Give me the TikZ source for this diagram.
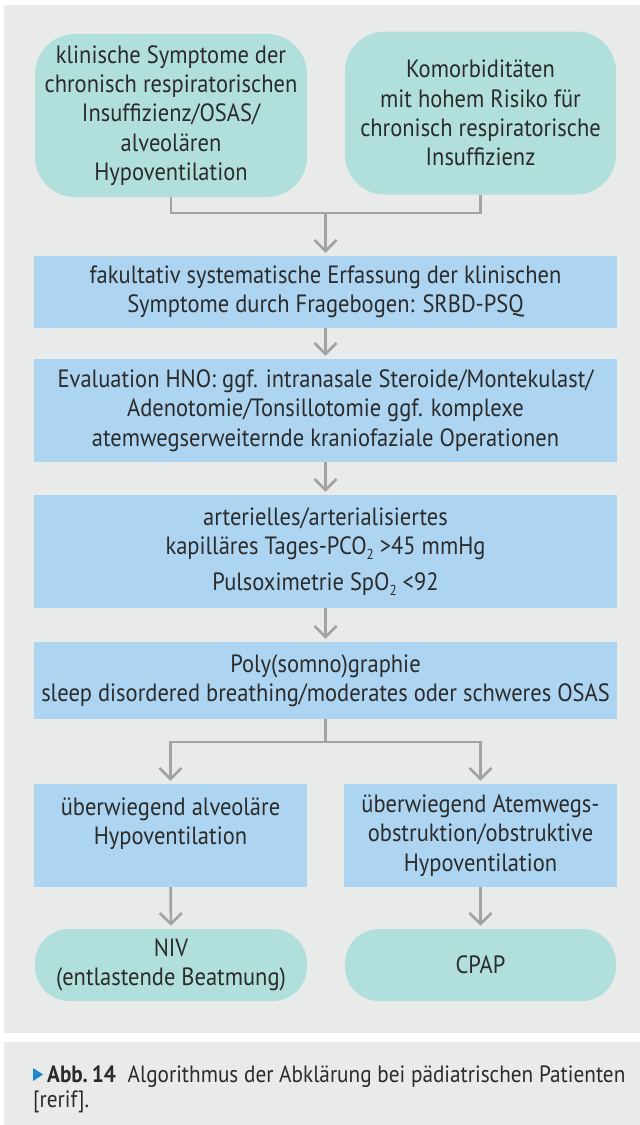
\documentclass[tikz,border=0pt]{standalone}
\usepackage{fontspec}
\setmainfont{PT Sans}[FakeStretch=0.9]
\usetikzlibrary{arrows.meta}
\definecolor{panelgray}{HTML}{E9EBEA}
\definecolor{tealbox}{HTML}{B1DFDC}
\definecolor{bluebox}{HTML}{ADD4F0}
\definecolor{linegray}{HTML}{A3A3A3}
\definecolor{textdark}{HTML}{2B2B2B}
\definecolor{capblue}{HTML}{1B87D0}
\newcommand{\subtwo}{\raisebox{-0.4ex}{\fontsize{14.5}{14.5}\selectfont 2}}
\begin{document}
\begin{tikzpicture}[x=1pt,y=-1pt,
  every node/.style={text=textdark, font=\fontsize{25}{29.3}\selectfont, inner sep=0pt, align=center},
  tealnode/.style={fill=tealbox, rounded corners=40pt},
  pillnode/.style={fill=tealbox, rounded corners=34pt, minimum width=272pt, minimum height=72pt},
  bluenode/.style={fill=bluebox},
  widebox/.style={bluenode, minimum width=583pt},
  halfbox/.style={bluenode, minimum width=273pt, minimum height=103pt},
  link/.style={draw=linegray, line width=2.6pt},
  arr/.style={link, shorten >=3pt, -{Straight Barb[length=11pt,width=22pt]}},
  captext/.style={font=\fontsize{23.6}{25}\selectfont}
]
% page and panels
\useasboundingbox (0,0) rectangle (640,1125);
\fill[white] (0,0) rectangle (640,1125);
\fill[panelgray] (4,5) rectangle (640,1033);
\fill[panelgray] (4,1042) rectangle (640,1125);

% entry points
\node[tealnode, minimum width=272pt, minimum height=163pt] (sym) at (171,115.5)
  {klinische Symptome der\\chronisch respiratorischen\\Insuffizienz/OSAS/\\alveolären\\Hypoventilation};
\node[tealnode, minimum width=271pt, minimum height=163pt] (kom) at (480.5,113)
  {Komorbiditäten\\mit hohem Risiko für\\chronisch respiratorische\\Insuffizienz};

% diagnostic chain
\node[widebox, minimum height=72pt] (frag) at (325.5,292)
  {fakultativ systematische Erfassung der klinischen\\Symptome durch Fragebogen: SRBD-PSQ};
\node[widebox, minimum height=103pt] (hno) at (325.5,410.5)
  {Evaluation HNO: ggf. intranasale Steroide/Montekulast/\\Adenotomie/Tonsillotomie ggf. komplexe\\atemwegserweiternde kraniofaziale Operationen};
\node[widebox, minimum height=113pt] (gas) at (325.5,551.5)
  {arterielles/arterialisiertes\\kapilläres Tages-PCO\subtwo{} >45 mmHg\\[6pt]Pulsoximetrie SpO\subtwo{} <92};
\node[widebox, minimum height=77pt] (psg) at (325.5,680.5)
  {Poly(somno)graphie\\sleep disordered breathing/moderates oder schweres OSAS};

% branches
\node[halfbox] (alv) at (170.5,835.5)
  {überwiegend alveoläre\\Hypoventilation\\~};
\node[halfbox] (obs) at (480.5,835.5)
  {überwiegend Atemwegs-\\obstruktion/obstruktive\\Hypoventilation};

% therapy
\node[pillnode] (niv) at (171,965) {NIV\\(entlastende Beatmung)};
\node[pillnode, minimum width=271pt] (cpap) at (480.5,965) {CPAP};

% connectors
\coordinate (j1) at (325.5,213);
\coordinate (j2) at (325.5,742);
\draw[link] (sym.south) |- (j1) -| (kom.south);
\draw[arr] (j1) -- (frag.north);
\draw[arr] (frag) -- (hno);
\draw[arr] (hno) -- (gas);
\draw[arr] (gas) -- (psg);
\draw[link] (psg.south) -- (j2);
\draw[arr] (j2) -| (alv.north);
\draw[arr] (j2) -| (obs.north);
\draw[arr] (alv) -- (niv);
\draw[arr] (obs) -- (cpap);

% caption
\fill[capblue] (33,1068) -- (43,1074.5) -- (33,1081) -- cycle;
\node[captext, anchor=base west] (cap1) at (47,1082)
  {\textbf{Abb.\,14}\enspace Algorithmus der Abklärung bei pädiatrischen Patienten};
\node[captext, anchor=base west] (cap2) at (33,1107) {[rerif].};
\end{tikzpicture}
\end{document}
